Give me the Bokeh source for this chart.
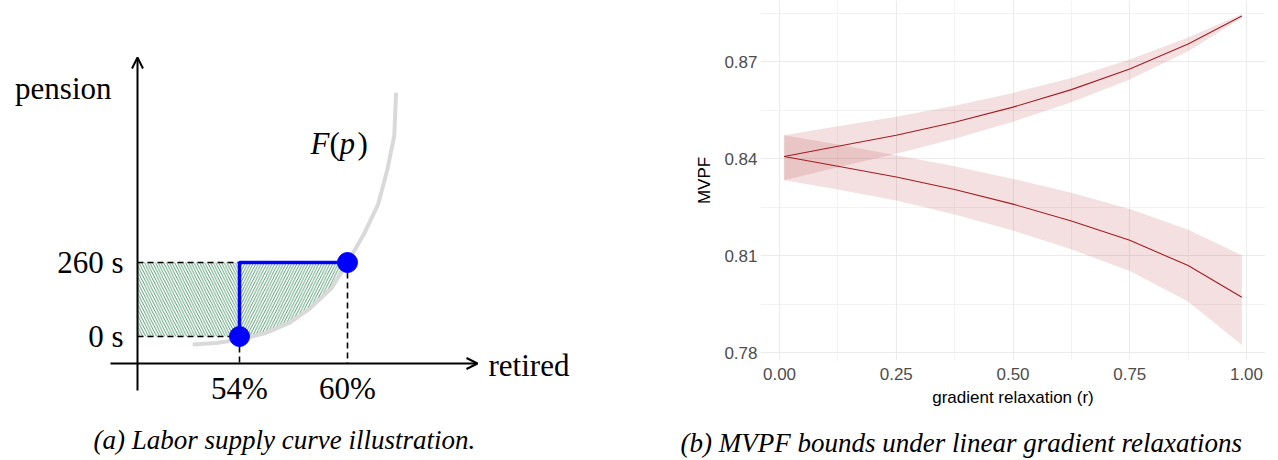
from bokeh.plotting import figure
from bokeh.models import Range1d, Arrow, OpenHead, FixedTicker, Title, NumeralTickFormatter
from bokeh.core.properties import value
from bokeh.embed import file_html
from bokeh.resources import INLINE

# ---------------- panel (a) data ----------------
tick_pcts = [54, 60]
tick_pct_labels = ["54%", "60%"]
tick_secs = [0, 260]
tick_sec_labels = ["0 s", "260 s"]
curve_p = [51.4, 52.7, 54.0, 55.4, 56.8, 57.9, 59.1, 60.0, 60.9, 61.7, 62.2, 62.6, 62.7]
curve_s = [-28, -23, -11, 11, 49, 98, 169, 260, 358, 464, 583, 706, 857]
x_title_a = "retired"
y_title_a = "pension"
caption_a = "(a) Labor supply curve illustration."

# ---------------- panel (b) data ----------------
r = [0.01, 0.125, 0.25, 0.375, 0.5, 0.625, 0.75, 0.875, 0.99]
upper_mid = [0.8406, 0.8438, 0.8472, 0.8512, 0.8559, 0.8613, 0.8677, 0.8754, 0.8841]
upper_hi = [0.8472, 0.8500, 0.8529, 0.8563, 0.8603, 0.8649, 0.8706, 0.8774, 0.8847]
upper_lo = [0.8333, 0.8373, 0.8415, 0.8461, 0.8514, 0.8574, 0.8644, 0.8732, 0.8835]
lower_mid = [0.8406, 0.8376, 0.8343, 0.8304, 0.8259, 0.8207, 0.8147, 0.8069, 0.7971]
lower_hi = [0.8472, 0.8443, 0.8410, 0.8376, 0.8337, 0.8294, 0.8244, 0.8180, 0.8101]
lower_lo = [0.8333, 0.8304, 0.8270, 0.8227, 0.8177, 0.8119, 0.8052, 0.7958, 0.7823]
x_ticks = [0.0, 0.25, 0.5, 0.75, 1.0]
x_minor = [0.125, 0.375, 0.625, 0.875]
y_ticks = [0.78, 0.81, 0.84, 0.87]
y_minor = [0.795, 0.825, 0.855, 0.885]
x_title_b = "gradient relaxation (r)"
y_title_b = "MVPF"
caption_b = "(b) MVPF bounds under linear gradient relaxations"

# ---------------- layout / style ----------------
SERIF_NAME = "Liberation Serif"
SANS_NAME = "Liberation Sans"
SERIF = value(SERIF_NAME)
GREEN = "#1f7a45"
BLUE = "#0000ff"

WA, HA = 640, 460
PX_PER_PCT = 18.0
PX_PER_SEC = 74.0 / 260.0
X_REF_PX, Y_REF_PX = 239.0, 336.0   # screen position of (54 %, 0 s)


def xp(px):
    return tick_pcts[0] + (px - X_REF_PX) / PX_PER_PCT


def ys(py):
    return tick_secs[0] + (Y_REF_PX - py) / PX_PER_SEC


pa = figure(width=WA, height=HA, x_range=Range1d(xp(0), xp(WA)), y_range=Range1d(ys(HA), ys(0)),
            output_backend="svg", toolbar_location=None, min_border=0,
            x_axis_location=None, y_axis_location=None, title=None, name="panel_a")
pa.grid.visible = False
pa.outline_line_color = None

ax_x = xp(137)
ax_y = ys(363)

# hatched areas
pa.quad(left=[ax_x], right=[tick_pcts[0]], bottom=[tick_secs[0]], top=[tick_secs[1]],
        fill_color=None, line_color=None, hatch_pattern="\\", hatch_color=GREEN,
        hatch_scale=5.5, hatch_weight=0.75)
inner = [(p_, s_) for p_, s_ in zip(curve_p, curve_s) if tick_pcts[0] < p_ < tick_pcts[1]]
hx = [tick_pcts[0], tick_pcts[1]] + [q[0] for q in reversed(inner)] + [tick_pcts[0]]
hy = [tick_secs[1], tick_secs[1]] + [q[1] for q in reversed(inner)] + [tick_secs[0]]
pa.patch(hx, hy, fill_color=None, line_color=None, hatch_pattern="/", hatch_color=GREEN,
         hatch_scale=5.5, hatch_weight=0.75)

# supply curve
pa.line(curve_p, curve_s, line_color="#d9d9d9", line_width=4)

# dashed guides
pa.multi_line(xs=[[ax_x, tick_pcts[0]], [ax_x, tick_pcts[0]], [tick_pcts[0], tick_pcts[0]], [tick_pcts[1], tick_pcts[1]]],
              ys=[[tick_secs[0], tick_secs[0]], [tick_secs[1], tick_secs[1]], [tick_secs[0], ax_y], [tick_secs[1], ax_y]],
              line_color="black", line_width=1.6, line_dash="6 4")

# axes with arrows
pa.add_layout(Arrow(end=OpenHead(size=11, line_width=2, line_color="black"),
                    x_start=ax_x, y_start=ys(390), x_end=ax_x, y_end=ys(57),
                    line_width=2, line_color="black"))
pa.add_layout(Arrow(end=OpenHead(size=11, line_width=2, line_color="black"),
                    x_start=xp(110), y_start=ax_y, x_end=xp(477), y_end=ax_y,
                    line_width=2, line_color="black"))

# blue step and points
pa.line([tick_pcts[0], tick_pcts[0], tick_pcts[1]], [tick_secs[0], tick_secs[1], tick_secs[1]],
        line_color=BLUE, line_width=3.5)
pa.scatter(tick_pcts, tick_secs, size=20, color=BLUE)


def txt(x, y, text, size="31px", align="left", style="normal"):
    pa.text(x=x, y=y, text=text, text_font=SERIF, text_font_size=size, text_font_style=style,
            text_align=align, text_baseline="middle", text_color="black")


txt(tick_pcts, [ys(388)] * 2, tick_pct_labels, align="center")
txt([xp(123)] * 2, tick_secs, tick_sec_labels, align="right")
txt([xp(111)], [ys(88)], [y_title_a], align="right")
txt([xp(488)], [ys(365)], [x_title_a])
txt([xp(310), xp(339)], [ys(143)] * 2, ["F", "p"], style="italic")
txt([xp(329), xp(357)], [ys(143)] * 2, ["(", ")"])
txt([xp(93)], [ys(439)], [caption_a], size="27px", style="italic")

# ---------------- panel (b) ----------------
WB, HB = 638, 460
pb = figure(width=WB, height=HB, x_range=Range1d(-0.0407, 1.0407), y_range=Range1d(0.77753, 0.88887),
            output_backend="svg", toolbar_location=None, title=None, name="panel_b",
            min_border_left=120, min_border_right=13, min_border_top=0, min_border_bottom=100)
pb.outline_line_color = None

BAND = "#b22222"
LINE = "#a31d22"
pb.varea(x=r, y1=upper_lo, y2=upper_hi, fill_color=BAND, fill_alpha=0.14)
pb.varea(x=r, y1=lower_lo, y2=lower_hi, fill_color=BAND, fill_alpha=0.14)
pb.line(r, upper_mid, line_color=LINE, line_width=1.1)
pb.line(r, lower_mid, line_color=LINE, line_width=1.1)

xt = FixedTicker(ticks=x_ticks, minor_ticks=x_minor)
yt = FixedTicker(ticks=y_ticks, minor_ticks=y_minor)
pb.xaxis.ticker = xt
pb.yaxis.ticker = yt
pb.xgrid.ticker = xt
pb.ygrid.ticker = yt
for g in (pb.xgrid[0], pb.ygrid[0]):
    g.grid_line_color = "#ebebeb"
    g.grid_line_width = 1.1
    g.minor_grid_line_color = "#ebebeb"
    g.minor_grid_line_width = 0.6

pb.xaxis.formatter = NumeralTickFormatter(format="0.00")
pb.yaxis.formatter = NumeralTickFormatter(format="0.00")
pb.xaxis.axis_label = x_title_b
pb.yaxis.axis_label = y_title_b
for ax in (pb.xaxis[0], pb.yaxis[0]):
    ax.axis_line_color = None
    ax.major_tick_line_color = None
    ax.minor_tick_line_color = None
    ax.major_tick_out = 0
    ax.major_tick_in = 0
    ax.minor_tick_out = 0
    ax.minor_tick_in = 0
    ax.major_label_text_font = SANS_NAME
    ax.major_label_text_font_size = "17px"
    ax.major_label_text_color = "#4d4d4d"
    ax.axis_label_text_font = SANS_NAME
    ax.axis_label_text_font_size = "17px"
    ax.axis_label_text_font_style = "normal"
    ax.axis_label_text_color = "black"
pb.xaxis.major_label_standoff = 7
pb.xaxis.axis_label_standoff = 5
pb.yaxis.major_label_standoff = 3
pb.yaxis.axis_label_standoff = 7

# empty spacer between the axis and the caption, then the caption itself
pb.add_layout(Title(text=" ", text_font_size="8px", standoff=2), "below")
pb.add_layout(Title(text=caption_b, align="left", offset=-80, standoff=6,
                    text_font=SERIF_NAME, text_font_style="italic", text_font_size="27px",
                    text_color="black"), "below")

# two independent roots laid out side by side (avoids frame alignment between panels)
html = file_html([pa, pb], INLINE)
side_by_side = ("<style>body{display:flex !important;flex-direction:row;align-items:flex-start;"
                "margin:0;padding:0;}</style></head>")
html = html.replace("</head>", side_by_side, 1)
open("out.html", "w").write(html)
